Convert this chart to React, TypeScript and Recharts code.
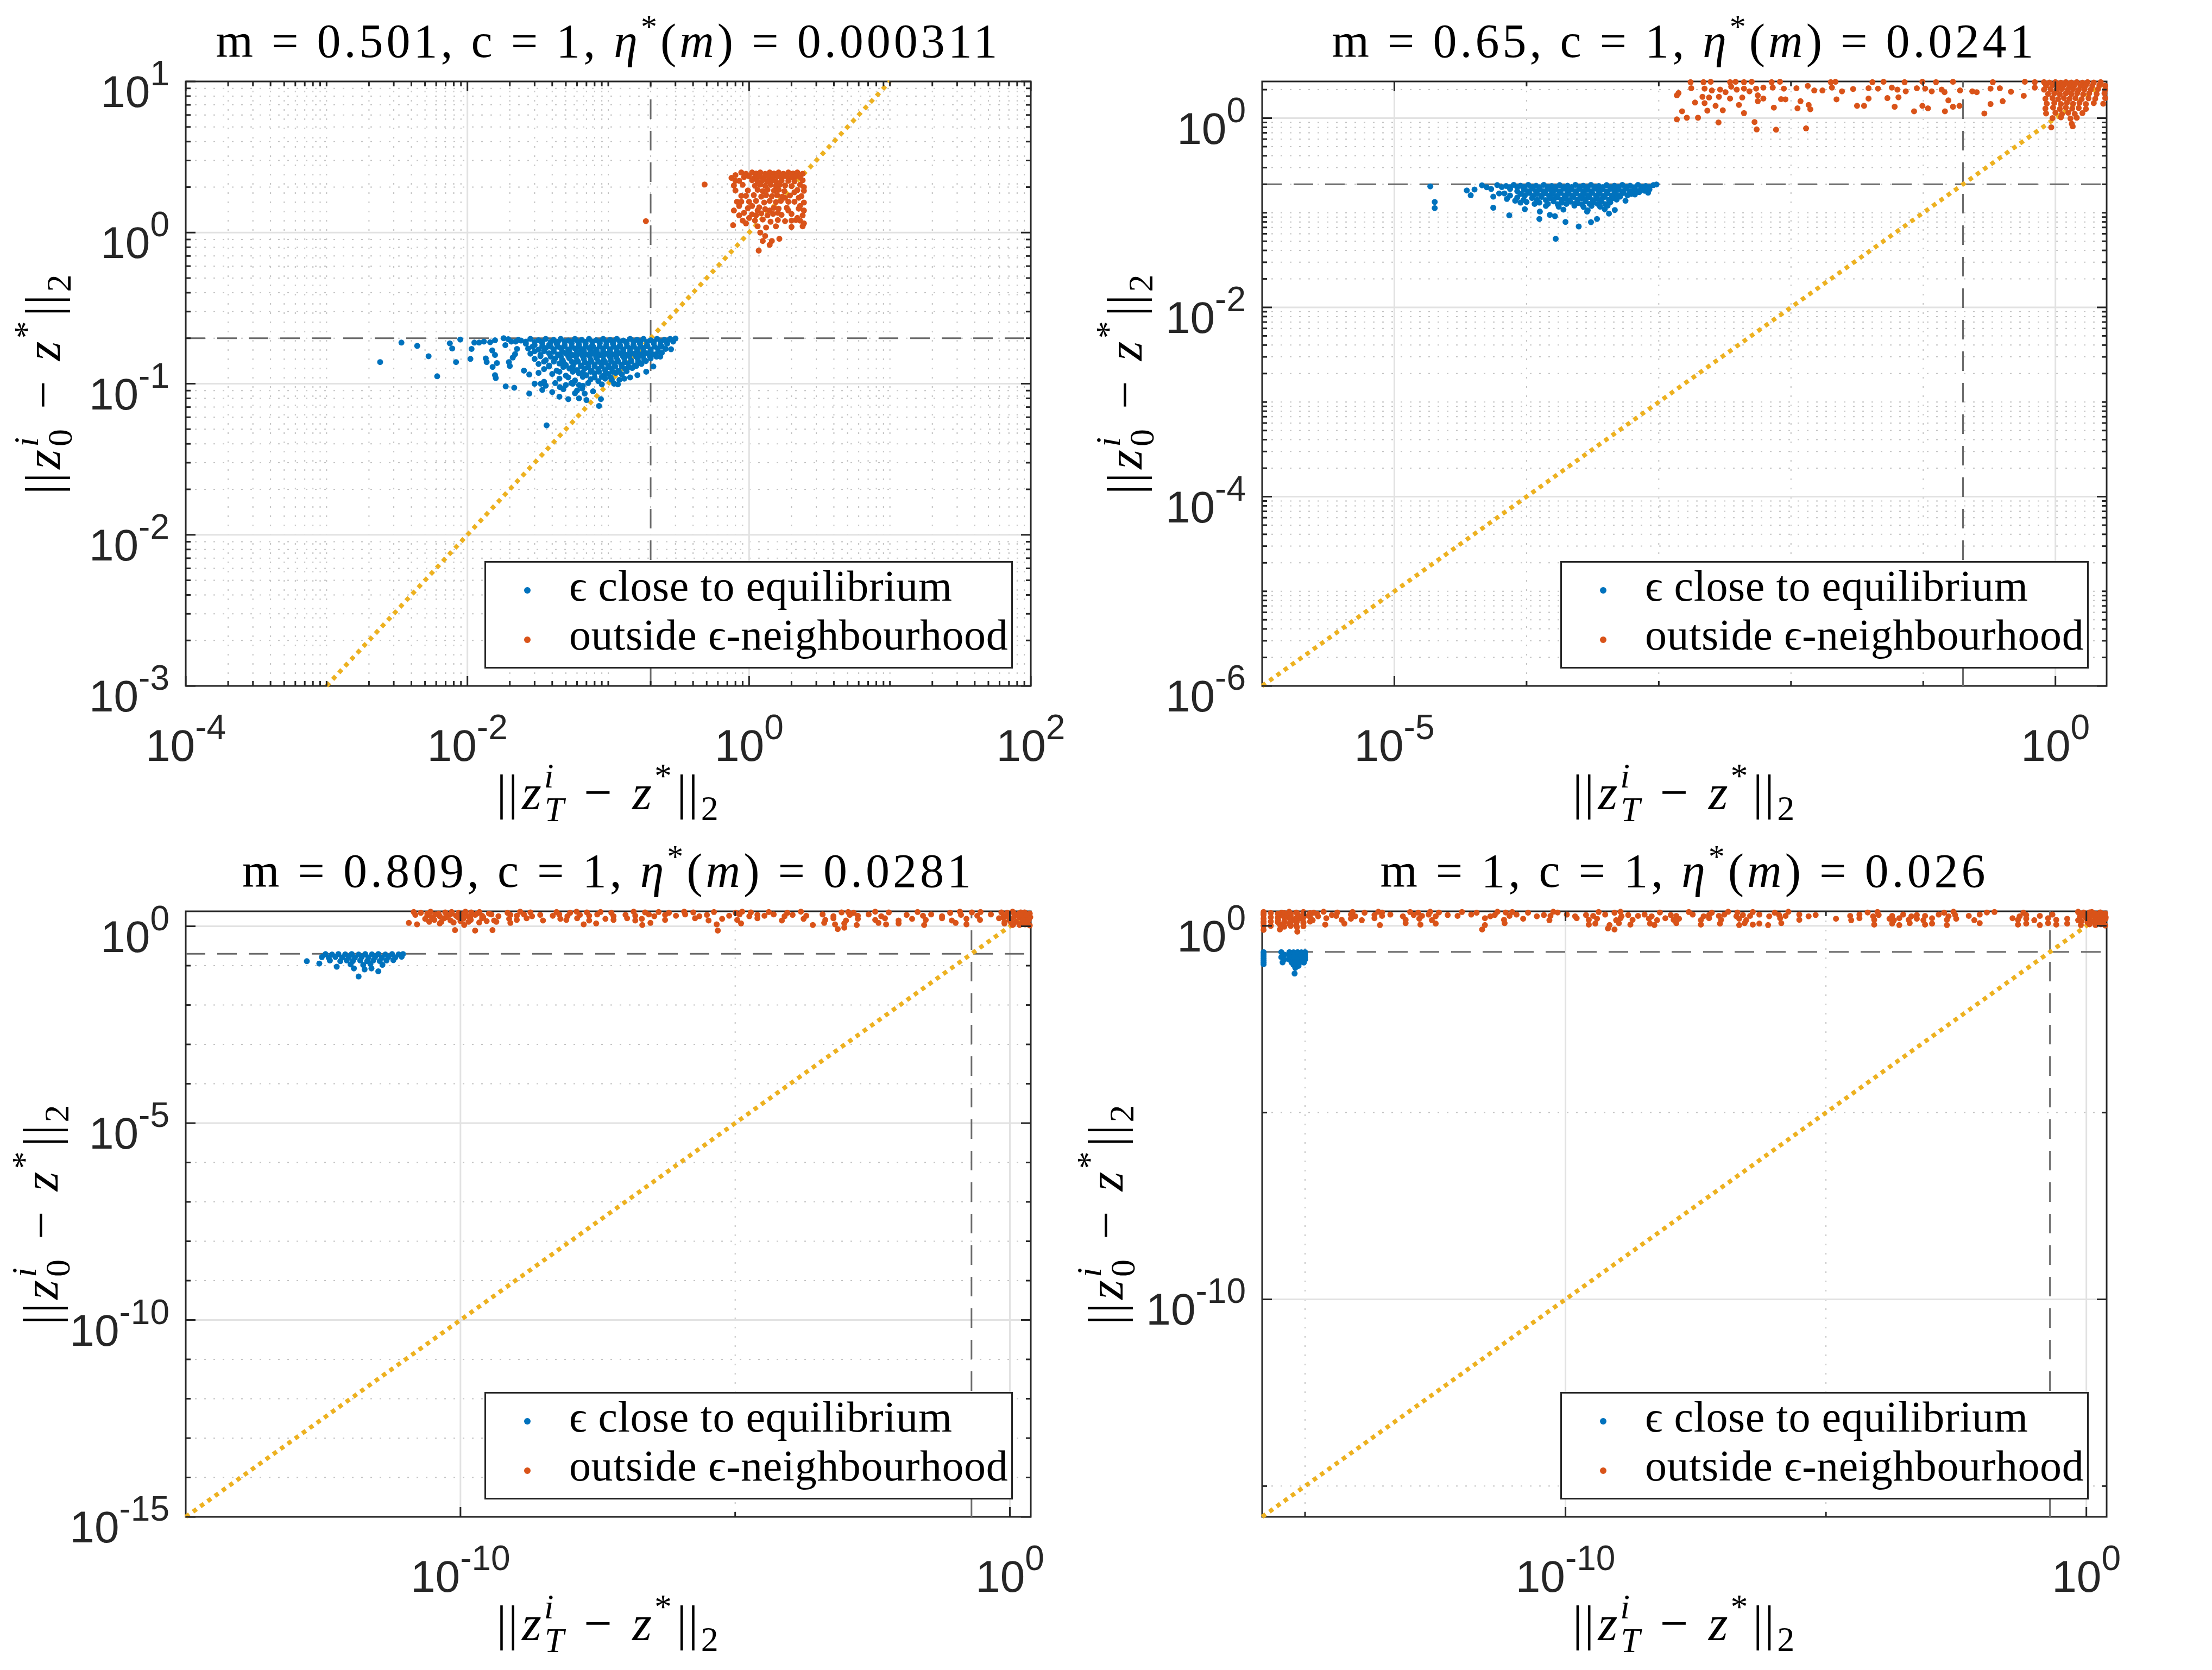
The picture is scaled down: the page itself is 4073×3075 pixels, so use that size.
import React from 'react';
import {
  ScatterChart,
  Scatter,
  XAxis,
  YAxis,
  CartesianGrid,
  ReferenceLine,
  ReferenceArea,
  Legend,
} from 'recharts';

type Pt = [number, number];

// ---------- titles / legend ----------
const mValues = ['0.501', '0.65', '0.809', '1'];
const etaValues = ['0.000311', '0.0241', '0.0281', '0.026'];
const legendLabels = ['ϵ close to equilibrium', 'outside ϵ-neighbourhood'];
const EPS = 0.2;

// ---------- tick values ----------
const tlXMajor = [1e-4, 1e-2, 1, 100];
const tlYMajor = [1e-3, 1e-2, 1e-1, 1, 10];
const trXMajor = [1e-5, 1];
const trYMajor = [1e-6, 1e-4, 1e-2, 1];
const trXMinor = [1e-4, 1e-3, 1e-2, 1e-1];
const blXMajor = [1e-10, 1];
const blYMajor = [1e-15, 1e-10, 1e-5, 1];
const blXMinor = [1e-5];
const blYMinor = [1e-14, 1e-13, 1e-12, 1e-11, 1e-9, 1e-8, 1e-7, 1e-6, 1e-4, 1e-3, 1e-2, 1e-1];
const brXMajor = [1e-10, 1];
const brYMajor = [1e-10, 1];
const brXMinor = [1e-15, 1e-5];
const brYMinor = [1e-15, 1e-5];

// ---------- top left: m = 0.501 ----------
const tlClose: Pt[] = [
  [0.0024, 0.139], [0.0034, 0.187], [0.0044, 0.178], [0.0053, 0.152], [0.0061, 0.112], [0.0075, 0.185],
  [0.0078, 0.171], [0.0083, 0.139], [0.0089, 0.196], [0.0105, 0.146], [0.0107, 0.17], [0.0112, 0.187],
  [0.0121, 0.187], [0.0131, 0.19], [0.0135, 0.147], [0.0137, 0.139], [0.0145, 0.188], [0.015, 0.166],
  [0.0151, 0.129], [0.0157, 0.194], [0.0157, 0.155], [0.0157, 0.114], [0.0159, 0.109], [0.0162, 0.137],
  [0.0181, 0.2], [0.0186, 0.18], [0.0187, 0.096], [0.0197, 0.139], [0.02, 0.131], [0.0205, 0.19],
  [0.021, 0.149], [0.0215, 0.094], [0.0218, 0.157], [0.0225, 0.17], [0.023, 0.195], [0.0252, 0.122],
  [0.0275, 0.086], [0.0275, 0.115], [0.032, 0.118], [0.0332, 0.1], [0.035, 0.103], [0.0365, 0.053],
  [0.0453, 0.095], [0.048, 0.092], [0.052, 0.079], [0.0547, 0.101], [0.058, 0.0865], [0.062, 0.098],
  [0.0653, 0.093], [0.086, 0.0713], [0.0887, 0.079], [0.106, 0.106], [0.117, 0.099], [0.13, 0.108],
  [0.143, 0.11], [0.161, 0.114], [0.186, 0.12], [0.209, 0.13], [0.234, 0.151], [0.279, 0.169],
  [0.289, 0.19], [0.3, 0.199],
  [0.0195, 0.197], [0.024, 0.193], [0.028, 0.198], [0.032, 0.194], [0.036, 0.198], [0.041, 0.195],
  [0.046, 0.198], [0.052, 0.193], [0.058, 0.198], [0.065, 0.195], [0.073, 0.198], [0.082, 0.194],
  [0.092, 0.198], [0.103, 0.195], [0.115, 0.198], [0.128, 0.193], [0.143, 0.198], [0.16, 0.195],
  [0.178, 0.198], [0.2, 0.194], [0.222, 0.198], [0.25, 0.195], [0.275, 0.198],
  [0.022, 0.19], [0.026, 0.19], [0.03, 0.189], [0.034, 0.19], [0.039, 0.189], [0.044, 0.19], [0.049, 0.19],
  [0.055, 0.189], [0.061, 0.19], [0.069, 0.189], [0.077, 0.19], [0.087, 0.19], [0.097, 0.189], [0.109, 0.19],
  [0.121, 0.19], [0.135, 0.189], [0.151, 0.19], [0.169, 0.19], [0.189, 0.189], [0.211, 0.19], [0.236, 0.19],
  [0.262, 0.19],
  [0.026, 0.184], [0.03, 0.18], [0.034, 0.185], [0.038, 0.181], [0.043, 0.184], [0.049, 0.18],
  [0.055, 0.185], [0.062, 0.181], [0.069, 0.184], [0.077, 0.18], [0.087, 0.185], [0.097, 0.181],
  [0.108, 0.184], [0.121, 0.18], [0.135, 0.185], [0.151, 0.181], [0.168, 0.184], [0.188, 0.18],
  [0.21, 0.185], [0.235, 0.181], [0.262, 0.184],
  [0.029, 0.176], [0.034, 0.177], [0.039, 0.176], [0.044, 0.176], [0.049, 0.177], [0.055, 0.176],
  [0.062, 0.176], [0.069, 0.177], [0.078, 0.176], [0.087, 0.176], [0.097, 0.177], [0.109, 0.176],
  [0.122, 0.176], [0.136, 0.177], [0.152, 0.176], [0.17, 0.176], [0.19, 0.177], [0.213, 0.176], [0.24, 0.176],
  [0.027, 0.171], [0.032, 0.168], [0.036, 0.172], [0.041, 0.169], [0.046, 0.172], [0.052, 0.168],
  [0.058, 0.171], [0.065, 0.169], [0.073, 0.172], [0.082, 0.168], [0.092, 0.171], [0.103, 0.169],
  [0.115, 0.172], [0.128, 0.168], [0.143, 0.171], [0.16, 0.169], [0.178, 0.172], [0.2, 0.168],
  [0.225, 0.171], [0.255, 0.17],
  [0.03, 0.164], [0.035, 0.164], [0.041, 0.163], [0.047, 0.164], [0.053, 0.164], [0.06, 0.163],
  [0.067, 0.164], [0.075, 0.164], [0.083, 0.163], [0.092, 0.164], [0.103, 0.164], [0.115, 0.163],
  [0.128, 0.164], [0.143, 0.164], [0.16, 0.163], [0.178, 0.164], [0.2, 0.164], [0.226, 0.163],
  [0.028, 0.158], [0.033, 0.155], [0.038, 0.159], [0.044, 0.156], [0.05, 0.159], [0.056, 0.155],
  [0.063, 0.158], [0.07, 0.156], [0.078, 0.159], [0.087, 0.155], [0.097, 0.158], [0.108, 0.156],
  [0.121, 0.159], [0.135, 0.155], [0.151, 0.158], [0.168, 0.156], [0.188, 0.159], [0.212, 0.156],
  [0.24, 0.16],
  [0.033, 0.152], [0.039, 0.151], [0.046, 0.152], [0.052, 0.152], [0.059, 0.151], [0.066, 0.152],
  [0.074, 0.152], [0.082, 0.151], [0.092, 0.152], [0.102, 0.152], [0.114, 0.151], [0.127, 0.152],
  [0.141, 0.152], [0.158, 0.151], [0.176, 0.152], [0.197, 0.152], [0.22, 0.151],
  [0.03, 0.146], [0.036, 0.143], [0.042, 0.147], [0.047, 0.144], [0.053, 0.147], [0.06, 0.143],
  [0.067, 0.146], [0.075, 0.144], [0.083, 0.147], [0.093, 0.143], [0.104, 0.146], [0.116, 0.144],
  [0.13, 0.147], [0.145, 0.143], [0.162, 0.146], [0.18, 0.144], [0.2, 0.147],
  [0.035, 0.14], [0.041, 0.14], [0.048, 0.139], [0.055, 0.14], [0.061, 0.14], [0.068, 0.139], [0.076, 0.14],
  [0.085, 0.14], [0.095, 0.139], [0.105, 0.14], [0.118, 0.14], [0.131, 0.139], [0.146, 0.14], [0.163, 0.14],
  [0.185, 0.141],
  [0.032, 0.135], [0.038, 0.132], [0.045, 0.136], [0.05, 0.133], [0.057, 0.136], [0.064, 0.132],
  [0.072, 0.135], [0.08, 0.133], [0.089, 0.136], [0.1, 0.132], [0.111, 0.135], [0.124, 0.133],
  [0.138, 0.136], [0.155, 0.132], [0.172, 0.135],
  [0.038, 0.13], [0.048, 0.129], [0.056, 0.13], [0.064, 0.13], [0.072, 0.129], [0.08, 0.13], [0.09, 0.13],
  [0.1, 0.129], [0.112, 0.13], [0.125, 0.13], [0.14, 0.129], [0.158, 0.131],
  [0.035, 0.125], [0.043, 0.122], [0.053, 0.126], [0.06, 0.123], [0.068, 0.126], [0.076, 0.122],
  [0.085, 0.125], [0.095, 0.123], [0.106, 0.126], [0.118, 0.122], [0.132, 0.125], [0.148, 0.127],
  [0.045, 0.12], [0.056, 0.12], [0.066, 0.119], [0.075, 0.12], [0.086, 0.12], [0.096, 0.119], [0.107, 0.12],
  [0.119, 0.12], [0.135, 0.121],
  [0.04, 0.116], [0.05, 0.113], [0.062, 0.117], [0.07, 0.114], [0.08, 0.117], [0.092, 0.113],
  [0.1, 0.116], [0.113, 0.118], [0.125, 0.115],
  [0.052, 0.11], [0.066, 0.111], [0.08, 0.11], [0.09, 0.111], [0.104, 0.11],
  [0.045, 0.108], [0.058, 0.105], [0.075, 0.107], [0.085, 0.104], [0.095, 0.108], [0.12, 0.106],
  [0.03, 0.1], [0.036, 0.097], [0.042, 0.101], [0.05, 0.098], [0.056, 0.1], [0.066, 0.097], [0.072, 0.101],
  [0.09, 0.099], [0.11, 0.1],
  [0.034, 0.091], [0.04, 0.088], [0.06, 0.09], [0.068, 0.086], [0.078, 0.089],
  [0.045, 0.082], [0.062, 0.08], [0.07, 0.078],
];
const tlOutside: Pt[] = [
  [0.75, 2.3], [0.8, 2.4], [0.88, 2.5], [0.95, 2.45], [1.05, 2.5], [1.12, 2.46], [1.2, 2.5], [1.3, 2.45],
  [1.4, 2.5], [1.5, 2.46], [1.62, 2.5], [1.75, 2.45], [1.9, 2.5], [2.05, 2.46], [2.2, 2.5], [2.4, 2.45],
  [0.92, 2.33], [1.0, 2.36], [1.1, 2.32], [1.18, 2.36], [1.28, 2.33], [1.38, 2.36], [1.48, 2.32],
  [1.6, 2.36], [1.72, 2.33], [1.85, 2.36], [2.0, 2.32], [2.15, 2.36], [2.3, 2.33],
  [0.85, 2.2], [1.05, 2.22], [1.15, 2.18], [1.25, 2.22], [1.35, 2.19], [1.45, 2.22], [1.55, 2.18],
  [1.7, 2.21], [1.9, 2.2], [2.1, 2.18], [2.4, 2.22],
  [0.78, 2.05], [0.9, 2.07], [1.1, 2.04], [1.2, 2.08], [1.3, 2.04], [1.42, 2.07], [1.55, 2.03],
  [1.65, 2.07], [1.8, 2.05], [2.0, 2.03], [2.3, 2.07],
  [0.98, 1.9], [1.15, 1.92], [1.25, 1.88], [1.35, 1.92], [1.5, 1.89], [1.62, 1.92], [1.78, 1.88],
  [2.2, 1.91], [2.45, 1.89],
  [0.95, 1.75], [1.08, 1.77], [1.22, 1.73], [1.32, 1.77], [1.45, 1.74], [1.58, 1.77], [1.72, 1.73],
  [1.95, 1.76], [2.35, 1.74],
  [1.0, 1.6], [1.12, 1.62], [1.28, 1.58], [1.4, 1.62], [1.55, 1.59], [1.68, 1.62], [2.1, 1.6], [2.45, 1.58],
  [0.98, 1.45], [1.18, 1.47], [1.3, 1.43], [1.5, 1.46], [1.62, 1.44], [1.85, 1.46], [2.25, 1.44],
  [1.05, 1.32], [1.22, 1.34], [1.35, 1.3], [1.48, 1.33], [1.7, 1.31], [2.0, 1.33], [2.4, 1.3],
  [1.1, 1.2], [1.25, 1.22], [1.42, 1.18], [1.6, 1.21], [1.8, 1.19], [2.15, 1.21],
  [0.77, 1.12], [1.15, 1.1], [1.32, 1.08], [1.55, 1.1], [2.0, 1.09], [2.4, 1.1],
  [0.8, 1.9], [0.82, 1.6], [0.78, 1.4], [0.85, 1.3], [0.9, 1.2], [0.88, 1.75], [0.85, 1.5], [0.92, 1.35],
  [0.95, 1.15], [0.8, 2.2], [0.88, 1.6], [1.0, 1.25], [1.12, 1.3], [1.4, 1.4], [1.6, 1.35], [1.9, 1.4],
  [2.2, 1.25], [2.45, 1.4], [2.3, 1.2], [2.45, 1.15], [1.9, 1.6], [2.25, 1.7], [2.45, 2.0], [2.1, 1.85],
  [2.3, 1.5], [1.05, 1.5], [1.15, 1.4], [1.8, 1.7], [2.0, 1.2],
  [1.2, 1.0], [1.3, 0.95], [1.45, 0.88], [1.25, 0.88], [1.4, 0.83], [1.17, 0.76], [1.64, 0.91],
  [0.483, 2.08], [0.185, 1.19],
];

// ---------- top right: m = 0.65 ----------
const trClose: Pt[] = [
  [1.87e-5, 0.19], [2.02e-5, 0.13], [2.02e-5, 0.112], [3.53e-5, 0.172], [3.78e-5, 0.153], [4.04e-5, 0.176],
  [4.6e-5, 0.195], [5e-5, 0.186], [5.4e-5, 0.178], [5.6e-5, 0.148], [5.6e-5, 0.113], [6.8e-5, 0.16],
  [7.1e-5, 0.14], [7.4e-5, 0.094], [8.2e-5, 0.134], [9e-5, 0.128], [9.7e-5, 0.109], [1.25e-4, 0.086],
  [1.26e-4, 0.103], [1.5e-4, 0.095], [1.64e-4, 0.092], [1.97e-4, 0.08], [2.48e-4, 0.0716], [3.07e-4, 0.0796],
  [3.41e-4, 0.086], [1.66e-4, 0.0531], [2.87e-4, 0.103], [4.2e-4, 0.098], [4.65e-4, 0.107], [5.6e-4, 0.134],
  [8.3e-4, 0.163], [9.6e-4, 0.199],
  [6e-5, 0.196], [7e-5, 0.192], [8e-5, 0.197], [9e-5, 0.193], [1.03e-4, 0.197], [1.18e-4, 0.193],
  [1.35e-4, 0.197], [1.55e-4, 0.192], [1.78e-4, 0.196], [2.04e-4, 0.193], [2.34e-4, 0.197], [2.68e-4, 0.193],
  [3.07e-4, 0.197], [3.52e-4, 0.192], [4.03e-4, 0.196], [4.62e-4, 0.193], [5.3e-4, 0.197], [6.07e-4, 0.193],
  [6.96e-4, 0.197], [7.97e-4, 0.192], [9.1e-4, 0.196],
  [6.5e-5, 0.187], [7.5e-5, 0.187], [8.5e-5, 0.186], [9.6e-5, 0.187], [1.1e-4, 0.187], [1.26e-4, 0.186],
  [1.45e-4, 0.187], [1.66e-4, 0.187], [1.91e-4, 0.186], [2.19e-4, 0.187], [2.51e-4, 0.187], [2.88e-4, 0.186],
  [3.3e-4, 0.187], [3.78e-4, 0.187], [4.33e-4, 0.186], [4.96e-4, 0.187], [5.68e-4, 0.187], [6.5e-4, 0.186],
  [7.45e-4, 0.187], [8.5e-4, 0.187],
  [7.5e-5, 0.178], [9.5e-5, 0.175], [1.1e-4, 0.18], [1.26e-4, 0.176], [1.45e-4, 0.179], [1.66e-4, 0.175],
  [1.9e-4, 0.18], [2.18e-4, 0.176], [2.5e-4, 0.179], [2.86e-4, 0.175], [3.28e-4, 0.18], [3.76e-4, 0.176],
  [4.3e-4, 0.179], [4.93e-4, 0.175], [5.65e-4, 0.18], [6.5e-4, 0.176], [7.4e-4, 0.179], [8.5e-4, 0.177],
  [8.5e-5, 0.169], [1.02e-4, 0.169], [1.18e-4, 0.168], [1.35e-4, 0.169], [1.55e-4, 0.169], [1.78e-4, 0.168],
  [2.04e-4, 0.169], [2.34e-4, 0.169], [2.68e-4, 0.168], [3.07e-4, 0.169], [3.52e-4, 0.169], [4.03e-4, 0.168],
  [4.62e-4, 0.169], [5.3e-4, 0.169], [6.07e-4, 0.168], [6.96e-4, 0.17], [7.8e-4, 0.171],
  [6.2e-5, 0.16], [9e-5, 0.158], [1.05e-4, 0.162], [1.2e-4, 0.158], [1.38e-4, 0.161], [1.58e-4, 0.157],
  [1.81e-4, 0.162], [2.08e-4, 0.158], [2.38e-4, 0.161], [2.73e-4, 0.157], [3.13e-4, 0.162], [3.58e-4, 0.158],
  [4.1e-4, 0.161], [4.7e-4, 0.157], [5.4e-4, 0.162], [6.2e-4, 0.158], [7.1e-4, 0.165],
  [7.5e-5, 0.152], [9.7e-5, 0.152], [1.12e-4, 0.151], [1.29e-4, 0.152], [1.48e-4, 0.152], [1.69e-4, 0.151],
  [1.94e-4, 0.152], [2.22e-4, 0.152], [2.55e-4, 0.151], [2.92e-4, 0.152], [3.35e-4, 0.152], [3.84e-4, 0.151],
  [4.4e-4, 0.152], [5.05e-4, 0.152], [5.8e-4, 0.153], [6.6e-4, 0.156],
  [8.5e-5, 0.145], [1.1e-4, 0.143], [1.3e-4, 0.147], [1.5e-4, 0.143], [1.72e-4, 0.146], [1.97e-4, 0.142],
  [2.26e-4, 0.147], [2.6e-4, 0.143], [2.98e-4, 0.146], [3.4e-4, 0.142], [3.9e-4, 0.147], [4.5e-4, 0.143],
  [5.1e-4, 0.148],
  [9.5e-5, 0.137], [1.2e-4, 0.137], [1.4e-4, 0.136], [1.6e-4, 0.137], [1.84e-4, 0.137], [2.1e-4, 0.136],
  [2.42e-4, 0.137], [2.78e-4, 0.137], [3.18e-4, 0.136], [3.65e-4, 0.137], [4.2e-4, 0.137], [4.8e-4, 0.138],
  [1e-4, 0.13], [1.25e-4, 0.128], [1.6e-4, 0.132], [1.85e-4, 0.128], [2.15e-4, 0.131], [2.45e-4, 0.127],
  [2.8e-4, 0.132], [3.2e-4, 0.128], [3.7e-4, 0.131], [4.3e-4, 0.129],
  [1.15e-4, 0.124], [1.45e-4, 0.124], [1.72e-4, 0.123], [2e-4, 0.124], [2.3e-4, 0.124], [2.62e-4, 0.123],
  [3e-4, 0.124], [3.45e-4, 0.124], [3.95e-4, 0.123],
  [1.4e-4, 0.118], [1.75e-4, 0.116], [2.3e-4, 0.119], [2.7e-4, 0.115], [3.1e-4, 0.118], [3.6e-4, 0.116],
  [4.1e-4, 0.119], [1.9e-4, 0.108], [2.9e-4, 0.106], [3.9e-4, 0.109],
];
const trOutside: Pt[] = [
  [1.74e-3, 2.4], [2.18e-3, 2.4], [2.47e-3, 2.42], [3.46e-3, 2.4], [3.81e-3, 2.42], [4.41e-3, 2.4],
  [5.04e-3, 2.42], [7.14e-3, 2.4], [8.25e-3, 2.42], [0.02, 2.4], [0.0217, 2.42], [0.0413, 2.4],
  [0.0501, 2.42], [0.0723, 2.4], [0.0986, 2.42], [0.125, 2.4], [0.168, 2.42], [0.336, 2.4], [0.587, 2.42],
  [0.698, 2.4],
  [1.76e-3, 2.07], [2.22e-3, 2.05], [2.52e-3, 1.96], [2.91e-3, 2.0], [3.2e-3, 1.88], [3.53e-3, 2.15],
  [3.89e-3, 2.0], [4.41e-3, 2.05], [4.85e-3, 1.92], [5.45e-3, 2.05], [6.18e-3, 2.1], [7.28e-3, 2.1],
  [8.83e-3, 2.05], [0.011, 2.07], [0.0134, 2.19], [0.015, 1.96], [0.0173, 1.96], [0.0204, 2.1],
  [0.0243, 1.92], [0.0295, 2.03], [0.0386, 2.07], [0.0455, 2.05], [0.0579, 2.1], [0.0638, 2.0],
  [0.0738, 1.92], [0.0895, 2.07], [0.1035, 2.05], [0.116, 1.92], [0.138, 2.0], [0.145, 1.88], [0.19, 1.96],
  [0.235, 1.92], [0.254, 1.88], [0.323, 2.05], [0.38, 2.07], [0.461, 1.9], [0.698, 2.1],
  [1.41e-3, 1.84], [1.37e-3, 1.74], [2.14e-3, 1.68], [2.4e-3, 1.65], [2.85e-3, 1.68], [3.46e-3, 1.61],
  [4.28e-3, 1.65], [5.61e-3, 1.74], [6.18e-3, 1.61], [8.41e-3, 1.59], [9.08e-3, 1.58], [0.0118, 1.51],
  [0.0136, 1.38], [0.0221, 1.58], [0.0386, 1.61], [0.0536, 1.63], [0.065, 1.66], [0.155, 1.54],
  [0.399, 1.51], [0.576, 1.72], [0.323, 1.41],
  [1.88e-3, 1.46], [2.22e-3, 1.44], [2.69e-3, 1.35], [3.05e-3, 1.21], [4.04e-3, 1.38], [4.41e-3, 1.13],
  [5.61e-3, 1.51], [7.42e-3, 1.29], [0.0112, 1.27], [0.014, 1.24], [0.0316, 1.35], [0.0357, 1.35],
  [0.0608, 1.32], [0.0853, 1.18], [0.0986, 1.35], [0.1086, 1.27], [0.146, 1.18], [0.168, 1.32],
  [0.188, 1.35], [0.29, 1.12],
  [1.5e-3, 1.18], [1.63e-3, 1.01], [1.37e-3, 0.97], [1.98e-3, 1.01], [2.33e-3, 1.2], [2.83e-3, 0.9],
  [5.3e-3, 0.91], [5.5e-3, 0.76], [7.71e-3, 0.755], [0.013, 0.78],
  [0.82, 2.4], [0.9, 2.38], [1.0, 2.4], [1.1, 2.37], [1.2, 2.4], [1.32, 2.38], [1.45, 2.4], [1.6, 2.37],
  [1.75, 2.4], [1.95, 2.38], [2.2, 2.4],
  [0.85, 2.2], [0.95, 2.23], [1.05, 2.19], [1.15, 2.23], [1.27, 2.2], [1.4, 2.23], [1.55, 2.19],
  [1.7, 2.22], [1.9, 2.2], [2.15, 2.23], [2.38, 2.2],
  [0.82, 2.0], [0.92, 2.03], [1.02, 1.99], [1.12, 2.03], [1.24, 2.0], [1.36, 2.03], [1.5, 1.99],
  [1.66, 2.02], [1.85, 2.0], [2.1, 2.03], [2.38, 2.0],
  [0.88, 1.8], [0.98, 1.83], [1.08, 1.79], [1.2, 1.83], [1.32, 1.8], [1.46, 1.83], [1.62, 1.79],
  [1.8, 1.82], [2.05, 1.8], [2.35, 1.83],
  [0.84, 1.6], [0.95, 1.63], [1.05, 1.59], [1.16, 1.63], [1.28, 1.6], [1.42, 1.63], [1.58, 1.59],
  [1.78, 1.62], [2.0, 1.6], [2.38, 1.63],
  [0.86, 1.42], [0.98, 1.45], [1.1, 1.41], [1.22, 1.45], [1.36, 1.42], [1.52, 1.45], [1.7, 1.41],
  [1.95, 1.44], [2.3, 1.42],
  [0.84, 1.26], [0.96, 1.29], [1.08, 1.25], [1.2, 1.29], [1.34, 1.26], [1.5, 1.28], [1.7, 1.25],
  [0.85, 1.12], [1.0, 1.14], [1.12, 1.1], [1.25, 1.14], [1.4, 1.11], [1.6, 1.13],
  [0.95, 1.0], [1.1, 1.02], [1.3, 0.99], [1.45, 1.01], [0.93, 0.8], [1.33, 0.87], [1.35, 0.82],
];

// ---------- bottom left: m = 0.809 ----------
const blClose: Pt[] = [
  [3.5e-13, 0.196], [4.6e-13, 0.192], [6e-13, 0.197], [8e-13, 0.193], [1.05e-12, 0.197], [1.4e-12, 0.192],
  [1.85e-12, 0.196], [2.45e-12, 0.193], [3.2e-12, 0.197], [4.3e-12, 0.192], [5.7e-12, 0.196], [7.5e-12, 0.193],
  [9e-12, 0.197],
  [3e-13, 0.165], [4e-13, 0.16], [5.3e-13, 0.166], [7e-13, 0.161], [9.3e-13, 0.165], [1.2e-12, 0.16],
  [1.6e-12, 0.166], [2.1e-12, 0.161], [2.8e-12, 0.165], [3.7e-12, 0.16], [4.9e-12, 0.166], [6.5e-12, 0.161],
  [8.5e-12, 0.168],
  [4.2e-13, 0.135], [6.5e-13, 0.13], [8.5e-13, 0.136], [1.1e-12, 0.131], [1.5e-12, 0.135], [2e-12, 0.13],
  [2.6e-12, 0.136], [3.4e-12, 0.131], [4.5e-12, 0.135], [6e-12, 0.138],
  [1e-12, 0.108], [1.7e-12, 0.104], [2.3e-12, 0.11], [3.8e-12, 0.105],
  [1.6e-13, 0.13], [2.7e-13, 0.113], [5.6e-13, 0.094], [1.4e-12, 0.053], [1.15e-12, 0.085], [1.8e-12, 0.08],
  [2.4e-12, 0.085], [3.2e-12, 0.072],
];
const blOutside: Pt[] = [
  [1.41e-11, 2.3], [1.9e-11, 2.2], [2.86e-11, 2.35], [5.28e-11, 2.25], [6.9e-11, 2.3], [9.3e-11, 2.2],
  [1.23e-10, 2.35], [1.57e-10, 2.25], [2.22e-10, 2.3], [7.2e-10, 2.2], [1.22e-9, 2.35], [1.88e-9, 2.25],
  [5.61e-9, 2.3], [9.9e-9, 2.2], [1.3e-8, 2.35], [2.0e-8, 2.25], [3.54e-8, 2.3], [5.58e-8, 2.2],
  [1.42e-7, 2.35], [2.29e-7, 2.25], [4.04e-7, 2.3], [6.22e-7, 2.2], [1.18e-6, 2.35], [1.73e-6, 2.25],
  [4.11e-6, 2.3], [1.02e-5, 2.2], [1.34e-5, 2.35], [1.93e-5, 2.25], [4.09e-5, 2.3], [8.88e-5, 2.2],
  [1.57e-4, 2.35], [8.64e-4, 2.25], [1.14e-3, 2.3], [1.43e-3, 2.2], [3.54e-3, 2.35], [6.25e-3, 2.25],
  [0.0209, 2.3], [0.0819, 2.2], [0.123, 2.35], [0.203, 2.25], [0.292, 2.3], [0.893, 2.2], [1.12, 2.35],
  [1.58, 2.25],
  [1.51e-11, 1.95], [2.49e-11, 1.85], [3.5e-11, 2.0], [4.2e-11, 1.8], [6.34e-11, 1.95], [8.3e-11, 1.85],
  [1.09e-10, 2.0], [1.37e-10, 1.8], [1.85e-10, 1.95], [2.48e-10, 1.85], [3.66e-10, 2.0], [4.91e-10, 1.8],
  [8.1e-10, 1.95], [1.06e-9, 1.85], [1.43e-9, 2.0], [2.01e-9, 1.8], [2.83e-9, 1.95], [4.79e-9, 1.85],
  [6.28e-9, 2.0], [8.85e-9, 1.8], [1.49e-8, 1.95], [2.2e-8, 1.85], [3.09e-8, 2.0], [6.11e-8, 1.8],
  [1.01e-7, 1.95], [1.52e-7, 1.85], [2.68e-7, 2.0], [3.37e-7, 1.8], [5.3e-7, 1.95], [8.37e-7, 1.85],
  [1.23e-6, 2.0], [2.23e-6, 1.8], [3.06e-6, 1.95], [7.78e-6, 1.85], [1.2e-5, 2.0], [1.81e-5, 1.8],
  [2.54e-5, 1.95], [3.41e-5, 1.85], [5.02e-5, 2.0], [7.93e-5, 1.8], [1.11e-4, 1.95], [1.97e-4, 1.85],
  [3.9e-4, 2.0], [6.14e-4, 1.8], [1.22e-3, 1.95], [1.71e-3, 1.85], [2.69e-3, 2.0], [4.55e-3, 1.8],
  [0.0132, 1.95], [0.0262, 1.85], [0.0369, 2.0], [0.0582, 1.8], [0.129, 1.95], [0.255, 1.85], [0.451, 2.0],
  [0.796, 1.8], [1.26, 1.95], [1.98, 1.85],
  [2.28e-11, 1.55], [3.35e-11, 1.45], [5.05e-11, 1.6], [6.6e-11, 1.4], [1.12e-10, 1.55], [1.54e-10, 1.45],
  [2.48e-10, 1.6], [4.1e-10, 1.4], [7.7e-10, 1.55], [1.06e-9, 1.45], [1.6e-9, 1.6], [3.18e-9, 1.4],
  [6.58e-9, 1.55], [8.45e-9, 1.45], [1.33e-8, 1.6], [2.2e-8, 1.4], [4.35e-8, 1.55], [6.11e-8, 1.45],
  [1.08e-7, 1.6], [1.52e-7, 1.4], [2.0e-7, 1.55], [5.3e-7, 1.45], [1.86e-6, 1.6], [3.28e-6, 1.4],
  [5.79e-6, 1.55], [1.09e-5, 1.45], [2.54e-5, 1.6], [7.08e-5, 1.4], [1.76e-4, 1.55], [4.37e-4, 1.45],
  [6.14e-4, 1.6], [1.04e-3, 1.4], [1.71e-3, 1.55], [3.54e-3, 1.45], [5.33e-3, 1.6], [9.42e-3, 1.4],
  [0.0166, 1.55], [0.0294, 1.45], [0.0582, 1.6], [0.0877, 1.4], [0.162, 1.55], [0.286, 1.45], [0.634, 1.6],
  [1.0, 1.4], [1.77, 1.55],
  [1.15e-11, 1.22], [1.62e-11, 1.12], [4.2e-11, 1.18], [1.17e-10, 1.08], [8.1e-10, 1.22], [1.75e-8, 1.12],
  [2.95e-8, 1.18], [2.04e-7, 1.08], [2.87e-7, 1.22], [4.61e-6, 1.12], [1.28e-5, 1.18], [2.59e-4, 1.08],
  [4.17e-4, 1.22], [6.57e-4, 1.12], [9.68e-4, 1.18], [1.63e-3, 1.08], [4.06e-3, 1.22], [5.58e-3, 1.12],
  [9.42e-3, 1.18], [0.0275, 1.08], [0.103, 1.22], [0.162, 1.12], [0.796, 1.18], [1.12, 1.08],
  [7.96e-11, 0.8], [1.85e-10, 0.78], [3.83e-10, 0.8], [4.82e-6, 0.78], [7.36e-4, 0.85], [9.68e-4, 0.92],
  [2.5e-11, 2.1], [3e-11, 1.7], [4e-11, 2.1], [5.5e-11, 1.7], [7e-11, 2.1], [9e-11, 1.7], [1.2e-10, 2.1],
  [1.5e-10, 1.7], [2e-10, 2.1], [2.6e-10, 1.7], [3.3e-10, 2.1],
  [2.7e-11, 1.3], [4.5e-11, 1.3], [7.5e-11, 1.25], [1e-10, 1.35], [1.4e-10, 1.3], [2.2e-10, 1.25],
  [3e-10, 1.35], [4.5e-10, 1.3],
  [0.7, 2.25], [0.9, 2.1], [1.15, 2.25], [1.45, 2.1], [1.85, 2.25], [2.3, 2.1], [0.75, 1.7], [0.95, 1.7],
  [1.2, 1.75], [1.5, 1.7], [1.9, 1.75], [2.35, 1.7], [0.8, 1.3], [1.05, 1.25], [1.3, 1.3], [1.65, 1.25],
  [2.1, 1.3], [1.15, 1.12], [1.5, 1.08], [1.9, 1.12], [2.3, 1.05], [1.4, 1.9], [1.7, 1.95], [2.0, 1.95],
  [1.75, 1.45], [2.2, 1.45], [1.05, 1.5],
];

// ---------- bottom right: m = 1 ----------
const brClose: Pt[] = [
  [1.6e-16, 0.198], [1.6e-16, 0.175], [1.6e-16, 0.155], [1.6e-16, 0.135], [1.6e-16, 0.118], [1.6e-16, 0.104],
  [1.6e-16, 0.094],
  [3.5e-16, 0.198], [4e-16, 0.17], [3.5e-16, 0.145], [4e-16, 0.125], [3.7e-16, 0.105],
  [5e-16, 0.198], [6e-16, 0.196], [7.2e-16, 0.198], [8.5e-16, 0.195], [1e-15, 0.198],
  [5e-16, 0.17], [6e-16, 0.168], [7.2e-16, 0.172], [8.5e-16, 0.168], [1e-15, 0.17],
  [5e-16, 0.145], [6e-16, 0.148], [7.2e-16, 0.144], [8.5e-16, 0.147], [1e-15, 0.145],
  [5e-16, 0.125], [6e-16, 0.122], [7.2e-16, 0.126], [8.5e-16, 0.123], [1e-15, 0.125],
  [5.5e-16, 0.105], [6.6e-16, 0.102], [8e-16, 0.106], [9.5e-16, 0.104],
  [6e-16, 0.09], [7.5e-16, 0.085], [6.5e-16, 0.075], [6.3e-16, 0.053],
];
const brOutside: Pt[] = [
  [1.6e-16, 2.35], [3.53e-16, 2.25], [4.95e-16, 2.38], [6.78e-16, 2.28], [9.3e-16, 2.35], [1.47e-15, 2.25],
  [2.27e-15, 2.38], [4.16e-15, 2.28], [8.17e-15, 2.35], [1.39e-14, 2.25], [2.55e-14, 2.38], [3.01e-14, 2.28],
  [1.04e-13, 2.35], [1.49e-13, 2.25], [2.53e-13, 2.38], [3.72e-13, 2.28], [1.03e-12, 2.35], [1.97e-12, 2.25],
  [4.94e-12, 2.38], [7.11e-12, 2.28], [9.5e-12, 2.35], [1.91e-11, 2.25], [5.82e-11, 2.38], [7.06e-11, 2.28],
  [4.33e-10, 2.35], [8.73e-10, 2.25], [1.14e-9, 2.38], [6.49e-9, 2.28], [2.33e-8, 2.35], [6.44e-8, 2.25],
  [1.33e-7, 2.38], [2.0e-7, 2.28], [3.94e-7, 2.35], [1.04e-6, 2.25], [1.9e-6, 2.38], [6.32e-5, 2.28],
  [9.77e-5, 2.35], [1.86e-3, 2.25], [2.81e-3, 2.38], [0.0123, 2.28], [0.0172, 2.35], [0.0619, 2.25],
  [0.695, 2.38], [0.885, 2.28], [1.27, 2.35], [1.83, 2.25],
  [1.6e-16, 1.95], [3.28e-16, 1.85], [4.18e-16, 2.0], [5.32e-16, 1.8], [7.3e-16, 1.95], [9.75e-16, 1.85],
  [1.24e-15, 2.0], [1.78e-15, 1.8], [3.27e-15, 1.95], [3.96e-15, 1.85], [7.6e-15, 2.0], [9.2e-15, 1.8],
  [2.15e-14, 1.95], [3.01e-14, 1.85], [4.34e-14, 2.0], [7.55e-14, 1.8], [1.22e-13, 1.95], [1.76e-13, 1.85],
  [2.36e-13, 2.0], [3.22e-13, 1.8], [5.48e-13, 1.95], [8.47e-13, 1.85], [1.55e-12, 2.0], [3.61e-12, 1.8],
  [4.39e-12, 1.95], [8.41e-12, 1.85], [1.15e-11, 2.0], [2.82e-11, 1.8], [3.85e-11, 1.95], [5.15e-11, 1.85],
  [1.06e-10, 2.0], [1.53e-10, 1.8], [2.48e-10, 1.95], [3.4e-10, 1.85], [5.78e-10, 2.0], [1.19e-9, 1.8],
  [1.6e-9, 1.95], [2.47e-9, 1.85], [3.3e-9, 2.0], [4.51e-9, 1.8], [1.05e-8, 1.95], [1.34e-8, 1.85],
  [2.77e-8, 2.0], [4.49e-8, 1.8], [5.71e-8, 1.95], [8.81e-8, 1.85], [1.12e-7, 2.0], [1.91e-7, 1.8],
  [2.55e-7, 1.95], [3.5e-7, 1.85], [5.27e-7, 2.0], [8.15e-7, 1.8], [1.26e-6, 1.95], [1.68e-6, 1.85],
  [3.08e-6, 2.0], [4.65e-6, 1.8], [6.35e-6, 1.95], [2.92e-5, 1.85], [4.4e-5, 2.0], [8.05e-5, 1.8],
  [1.03e-4, 1.95], [1.87e-4, 1.85], [3.04e-4, 2.0], [4.37e-4, 1.8], [5.56e-4, 1.95], [8e-4, 1.85],
  [1.46e-3, 2.0], [2.26e-3, 1.8], [3.02e-3, 1.95], [5.53e-3, 1.85], [8.97e-3, 2.0], [0.0524, 1.8],
  [0.07, 1.95], [0.128, 1.85], [0.223, 2.0], [0.783, 1.8], [1.13, 1.95], [2.06, 1.85],
  [1.6e-16, 1.55], [3.05e-16, 1.42], [4.95e-16, 1.6], [6.01e-16, 1.45], [8.63e-16, 1.55], [1.4e-15, 1.42],
  [2.56e-15, 1.6], [5.05e-15, 1.45], [7.6e-15, 1.55], [1.23e-14, 1.42], [2.15e-14, 1.6], [8.53e-14, 1.45],
  [1.56e-13, 1.55], [2.72e-13, 1.42], [2.84e-12, 1.6], [6.61e-12, 1.45], [1.54e-11, 1.55], [4.91e-11, 1.42],
  [1.64e-10, 1.6], [2.8e-10, 1.45], [4.03e-10, 1.55], [9.38e-10, 1.42], [1.14e-9, 1.6], [1.94e-9, 1.45],
  [4e-9, 1.55], [5.74e-9, 1.42], [8.26e-9, 1.6], [1.19e-8, 1.45], [1.51e-8, 1.55], [3.97e-8, 1.42],
  [5.71e-8, 1.6], [9.7e-8, 1.45], [2.16e-7, 1.55], [2.95e-7, 1.42], [1.32e-6, 1.6], [3.08e-6, 1.45],
  [1.56e-5, 1.55], [3.06e-5, 1.42], [4.4e-5, 1.6], [8.45e-5, 1.45], [1.66e-4, 1.55], [2.02e-4, 1.42],
  [2.56e-4, 1.6], [3.87e-4, 1.45], [5.56e-4, 1.55], [7.43e-4, 1.42], [1.09e-3, 1.6], [2.1e-3, 1.45],
  [3.17e-3, 1.55], [7.05e-3, 1.42], [0.0382, 1.6], [0.0486, 1.45], [0.07, 1.55], [0.1, 1.42], [0.184, 1.6],
  [0.264, 1.45], [0.429, 1.55], [0.695, 1.42], [1.0, 1.6], [1.62, 1.45], [2.33, 1.55],
  [1.6e-16, 1.18], [3.28e-16, 1.08], [4.95e-16, 1.15], [6.78e-16, 1.05], [9.3e-16, 1.18], [2.44e-15, 1.08],
  [5.69e-15, 1.15], [2.74e-14, 1.05], [8.53e-14, 1.18], [1.64e-13, 1.08], [3.22e-13, 1.15], [2.84e-12, 1.05],
  [6.78e-12, 1.18], [2.8e-10, 1.08], [3.74e-10, 1.15], [7.01e-10, 1.05], [1.06e-9, 1.18], [1.76e-9, 1.08],
  [4.2e-9, 1.15], [5.09e-9, 1.05], [1.34e-8, 1.18], [3.97e-8, 1.08], [9.25e-8, 1.15], [2.16e-7, 1.05],
  [2.75e-7, 1.18], [3.94e-7, 1.08], [5.27e-7, 1.15], [7.76e-7, 1.05], [1.39e-6, 1.18], [8.45e-5, 1.08],
  [1.87e-4, 1.15], [2.56e-4, 1.05], [4.06e-4, 1.18], [8e-4, 1.08], [1.09e-3, 1.15], [2.1e-3, 1.05],
  [8.97e-3, 1.18], [0.0486, 1.08], [0.07, 1.15], [0.128, 1.05], [0.184, 1.18], [0.264, 1.08], [0.429, 1.15],
  [0.783, 1.05],
  [1.6e-16, 0.78], [3.28e-16, 0.8], [7.1e-16, 0.7], [2.51e-12, 0.8], [6.53e-10, 0.85], [8.73e-10, 0.8],
  [2.2e-16, 2.2], [3e-16, 2.1], [4e-16, 2.2], [5.3e-16, 2.1], [7e-16, 2.2], [9.3e-16, 2.1], [1.25e-15, 2.2],
  [1.7e-15, 2.1], [2.2e-16, 1.7], [3e-16, 1.65], [4e-16, 1.7], [5.3e-16, 1.65], [7e-16, 1.7], [9.3e-16, 1.65],
  [1.25e-15, 1.7], [2.2e-16, 1.3], [3e-16, 1.25], [4e-16, 1.3], [5.3e-16, 1.25], [7e-16, 1.3], [9.3e-16, 1.25],
  [1.25e-15, 1.3], [2.2e-16, 1.0], [4e-16, 0.95], [5.3e-16, 1.0], [7e-16, 0.92], [9.3e-16, 0.98],
  [1.6e-16, 1.3], [1.6e-16, 2.1], [1.6e-16, 1.0],
  [0.7, 2.3], [0.9, 2.15], [1.15, 2.3], [1.45, 2.15], [1.85, 2.3], [2.3, 2.15], [0.75, 1.75], [0.95, 1.7],
  [1.2, 1.75], [1.5, 1.7], [1.9, 1.75], [2.35, 1.7], [0.8, 1.3], [1.05, 1.25], [1.3, 1.3], [1.65, 1.25],
  [2.1, 1.3], [1.15, 1.1], [1.5, 1.05], [1.9, 1.1], [2.3, 1.02], [1.4, 1.95], [1.7, 2.0], [2.0, 1.9],
  [1.75, 1.45], [2.2, 1.45], [1.05, 1.5],
];

// ---------- styling ----------
const BLUE = '#0072BD';
const ORANGE = '#D95319';
const GOLD = '#EDB120';
const AXIS = '#262626';
const SANS = "'Liberation Sans', Arial, sans-serif";
const SERIF = "'Liberation Serif', 'Times New Roman', serif";
const LEG_W = 973;
const LEG_H = 198;

// minor ticks at k * 10^e between two decades (axis decoration only)
const decadeSteps = (lo: number, hi: number, min: number, max: number, skip: number[]) => {
  const out: number[] = [];
  for (let e = lo; e <= hi; e++) {
    for (let k = 1; k < 10; k++) {
      const v = k * Math.pow(10, e);
      if (v < min * 0.9999 || v > max * 1.0001) continue;
      if (skip.some((s) => Math.abs(Math.log10(s / v)) < 1e-6)) continue;
      out.push(v);
    }
  }
  return out;
};

const isIn = (v: number, list: number[]) => list.some((s) => Math.abs(Math.log10(s / v)) < 1e-6);

interface Margin { top: number; right: number; bottom: number; left: number }
interface Cfg {
  m: string;
  eta: string;
  left: number;
  top: number;
  W: number;
  H: number;
  margin: Margin;
  xDomain: [number, number];
  yDomain: [number, number];
  xMajor: number[];
  yMajor: number[];
  xMinor: number[];
  yMinor: number[];
  close: Pt[];
  outside: Pt[];
  yLabelGap: number;
}

const panels: Cfg[] = [
  {
    m: mValues[0], eta: etaValues[0], left: 0, top: 0, W: 2036, H: 1537,
    margin: { top: 150, right: 138, bottom: 274, left: 342 },
    xDomain: [1e-4, 100], yDomain: [1e-3, 10],
    xMajor: tlXMajor, yMajor: tlYMajor,
    xMinor: decadeSteps(-4, 1, 1e-4, 100, tlXMajor),
    yMinor: decadeSteps(-3, 0, 1e-3, 10, tlYMajor),
    close: tlClose, outside: tlOutside, yLabelGap: 232,
  },
  {
    m: mValues[1], eta: etaValues[1], left: 1900, top: 0, W: 2173, H: 1537,
    margin: { top: 150, right: 194, bottom: 274, left: 424 },
    xDomain: [1e-6, 2.44], yDomain: [1e-6, 2.44],
    xMajor: trXMajor, yMajor: trYMajor,
    xMinor: trXMinor,
    yMinor: decadeSteps(-6, 0, 1e-6, 2.44, trYMajor),
    close: trClose, outside: trOutside, yLabelGap: 222,
  },
  {
    m: mValues[2], eta: etaValues[2], left: 0, top: 1537, W: 2036, H: 1538,
    margin: { top: 141, right: 138, bottom: 282, left: 342 },
    xDomain: [1e-15, 2.4], yDomain: [1e-15, 2.4],
    xMajor: blXMajor, yMajor: blYMajor,
    xMinor: blXMinor, yMinor: blYMinor,
    close: blClose, outside: blOutside, yLabelGap: 236,
  },
  {
    m: mValues[3], eta: etaValues[3], left: 1900, top: 1537, W: 2173, H: 1538,
    margin: { top: 141, right: 194, bottom: 282, left: 424 },
    xDomain: [1.5e-16, 2.45], yDomain: [1.5e-16, 2.45],
    xMajor: brXMajor, yMajor: brYMajor,
    xMinor: brXMinor, yMinor: brYMinor,
    close: brClose, outside: brOutside, yLabelGap: 257,
  },
];

const box = (c: Cfg) => ({
  l: c.margin.left,
  t: c.margin.top,
  r: c.W - c.margin.right,
  b: c.H - c.margin.bottom,
});

const toXY = (pts: Pt[]) => pts.map(([x, y]) => ({ x, y }));

const dot = (color: string) => (p: any) => <circle cx={p.cx} cy={p.cy} r={5.5} fill={color} />;

const Pow = ({ x, y, anchor, v }: { x: number; y: number; anchor: 'middle' | 'end'; v: number }) => (
  <text x={x} y={y} textAnchor={anchor} fontFamily={SANS} fontSize={82} fill={AXIS}>
    10<tspan dy={-40} fontSize={64}>{String(Math.round(Math.log10(v)))}</tspan>
  </text>
);

const makeXTick = (c: Cfg) => (props: any) => {
  const { x, payload } = props;
  const v = payload.value as number;
  const { t, b } = box(c);
  const major = isIn(v, c.xMajor);
  const len = major ? 18 : 9;
  return (
    <g>
      <line x1={x} x2={x} y1={b} y2={b - len} stroke={AXIS} strokeWidth={3} />
      <line x1={x} x2={x} y1={t} y2={t + len} stroke={AXIS} strokeWidth={3} />
      {major && <Pow x={x} y={b + 138} anchor="middle" v={v} />}
    </g>
  );
};

const makeYTick = (c: Cfg) => (props: any) => {
  const { y, payload } = props;
  const v = payload.value as number;
  const { l, r } = box(c);
  const major = isIn(v, c.yMajor);
  const len = major ? 18 : 9;
  return (
    <g>
      <line x1={l} x2={l + len} y1={y} y2={y} stroke={AXIS} strokeWidth={3} />
      <line x1={r} x2={r - len} y1={y} y2={y} stroke={AXIS} strokeWidth={3} />
      {major && <Pow x={l - 30} y={y + 47} anchor="end" v={v} />}
    </g>
  );
};

// ||z_sub^i - z*||_2 in the MATLAB/LaTeX style
const NormLabel = ({ sub, subItalic }: { sub: string; subItalic: boolean }) => (
  <>
    <tspan>||</tspan>
    <tspan dx={4} fontStyle="italic">z</tspan>
    <tspan fontStyle="italic" fontSize={64} dx={2} dy={-40}>i</tspan>
    <tspan fontStyle={subItalic ? 'italic' : 'normal'} fontSize={64} dx={-20} dy={62}>{sub}</tspan>
    <tspan dx={34} dy={-22}>−</tspan>
    <tspan dx={34} fontStyle="italic">z</tspan>
    <tspan fontSize={64} dx={2} dy={-40}>*</tspan>
    <tspan dx={6} dy={40}>||</tspan>
    <tspan fontSize={64} dx={2} dy={20}>2</tspan>
  </>
);

const XTitle = ({ cfg }: { cfg: Cfg }) => {
  const { l, r, b } = box(cfg);
  return (
    <text x={(l + r) / 2} y={b + 227} textAnchor="middle" fontFamily={SERIF} fontSize={92} letterSpacing={3} fill="#000">
      <NormLabel sub="T" subItalic />
    </text>
  );
};

const YTitle = ({ cfg }: { cfg: Cfg }) => {
  const { l, t, b } = box(cfg);
  const x = l - cfg.yLabelGap;
  const cy = (t + b) / 2;
  return (
    <text
      x={x}
      y={cy}
      transform={`rotate(-90 ${x} ${cy})`}
      textAnchor="middle"
      fontFamily={SERIF}
      fontSize={92}
      letterSpacing={3}
      fill="#000"
    >
      <NormLabel sub="0" subItalic={false} />
    </text>
  );
};

const legendItems = [
  { text: legendLabels[0], color: BLUE, dotTop: 54, textTop: 7 },
  { text: legendLabels[1], color: ORANGE, dotTop: 145, textTop: 97 },
];

const LegendBox = () => (
  <div
    style={{
      position: 'relative',
      width: LEG_W,
      height: LEG_H,
      boxSizing: 'border-box',
      border: `3px solid ${AXIS}`,
      background: '#fff',
      fontFamily: SERIF,
      fontSize: 80,
      letterSpacing: 0.6,
      lineHeight: 1,
      color: '#000',
    }}
  >
    {legendItems.map((it) => (
      <React.Fragment key={it.text}>
        <span
          style={{
            position: 'absolute',
            left: 70,
            top: it.dotTop - 9,
            width: 12,
            height: 12,
            borderRadius: '50%',
            background: it.color,
          }}
        />
        <span style={{ position: 'absolute', left: 153, top: it.textTop - 4, whiteSpace: 'nowrap' }}>{it.text}</span>
      </React.Fragment>
    ))}
  </div>
);

const Panel = ({ cfg }: { cfg: Cfg }) => {
  const { l, t, r, b } = box(cfg);
  // axes get 1px of room (a zero-size axis is not drawn); take it back from the margin
  const chartMargin = { ...cfg.margin, left: cfg.margin.left - 1, bottom: cfg.margin.bottom - 1 };
  return (
    <div style={{ position: 'absolute', left: cfg.left, top: cfg.top, width: cfg.W, height: cfg.H }}>
      <div
        style={{
          position: 'absolute',
          left: l - 200,
          width: r - l + 400,
          top: t - 118,
          textAlign: 'center',
          fontFamily: SERIF,
          fontSize: 88,
          letterSpacing: 6,
          lineHeight: 1,
          whiteSpace: 'nowrap',
          color: '#000',
        }}
      >
        m = {cfg.m}, c = 1, <i>η</i>
        <span style={{ fontSize: 60, position: 'relative', top: -36 }}>*</span>(<i>m</i>) = {cfg.eta}
      </div>
      <ScatterChart width={cfg.W} height={cfg.H} margin={chartMargin}>
        <CartesianGrid
          horizontalValues={cfg.yMinor}
          verticalValues={cfg.xMinor}
          stroke="#c4c4c4"
          strokeWidth={2}
          strokeDasharray="3 14"
        />
        <CartesianGrid horizontalValues={cfg.yMajor} verticalValues={cfg.xMajor} stroke="#e2e2e2" strokeWidth={3} />
        <XAxis
          type="number"
          dataKey="x"
          scale="log"
          domain={cfg.xDomain}
          ticks={[...cfg.xMajor, ...cfg.xMinor]}
          interval={0}
          tick={makeXTick(cfg)}
          tickLine={false}
          axisLine={false}
          height={1}
          label={<XTitle cfg={cfg} />}
        />
        <YAxis
          type="number"
          dataKey="y"
          scale="log"
          domain={cfg.yDomain}
          ticks={[...cfg.yMajor, ...cfg.yMinor]}
          interval={0}
          tick={makeYTick(cfg)}
          tickLine={false}
          axisLine={false}
          width={1}
          label={<YTitle cfg={cfg} />}
        />
        <Scatter data={toXY(cfg.close)} fill={BLUE} shape={dot(BLUE)} isAnimationActive={false} />
        <Scatter data={toXY(cfg.outside)} fill={ORANGE} shape={dot(ORANGE)} isAnimationActive={false} />
        <ReferenceLine y={EPS} stroke="#6b6b6b" strokeWidth={3} strokeDasharray="36 22" ifOverflow="visible" />
        <ReferenceLine x={EPS} stroke="#6b6b6b" strokeWidth={3} strokeDasharray="36 22" ifOverflow="visible" />
        <ReferenceLine
          segment={[
            { x: Math.max(cfg.xDomain[0], cfg.yDomain[0]), y: Math.max(cfg.xDomain[0], cfg.yDomain[0]) },
            { x: Math.min(cfg.xDomain[1], cfg.yDomain[1]), y: Math.min(cfg.xDomain[1], cfg.yDomain[1]) },
          ]}
          stroke={GOLD}
          strokeWidth={8}
          strokeDasharray="8 8.5"
          ifOverflow="visible"
        />
        <ReferenceArea
          x1={cfg.xDomain[0]}
          x2={cfg.xDomain[1]}
          y1={cfg.yDomain[0]}
          y2={cfg.yDomain[1]}
          fill="none"
          fillOpacity={0}
          stroke={AXIS}
          strokeWidth={3}
          ifOverflow="visible"
        />
        <Legend
          layout="vertical"
          align="center"
          verticalAlign="middle"
          content={() => <LegendBox />}
          wrapperStyle={{ position: 'absolute', left: r - 33 - LEG_W, top: b - 32 - LEG_H, width: LEG_W, height: LEG_H }}
        />
      </ScatterChart>
    </div>
  );
};

export default function App() {
  return (
    <div
      style={{
        position: 'absolute',
        left: 0,
        top: 0,
        width: 4073,
        height: 3075,
        background: '#fff',
        overflow: 'hidden',
      }}
    >
      {panels.map((p) => (
        <Panel key={p.m} cfg={p} />
      ))}
    </div>
  );
}
